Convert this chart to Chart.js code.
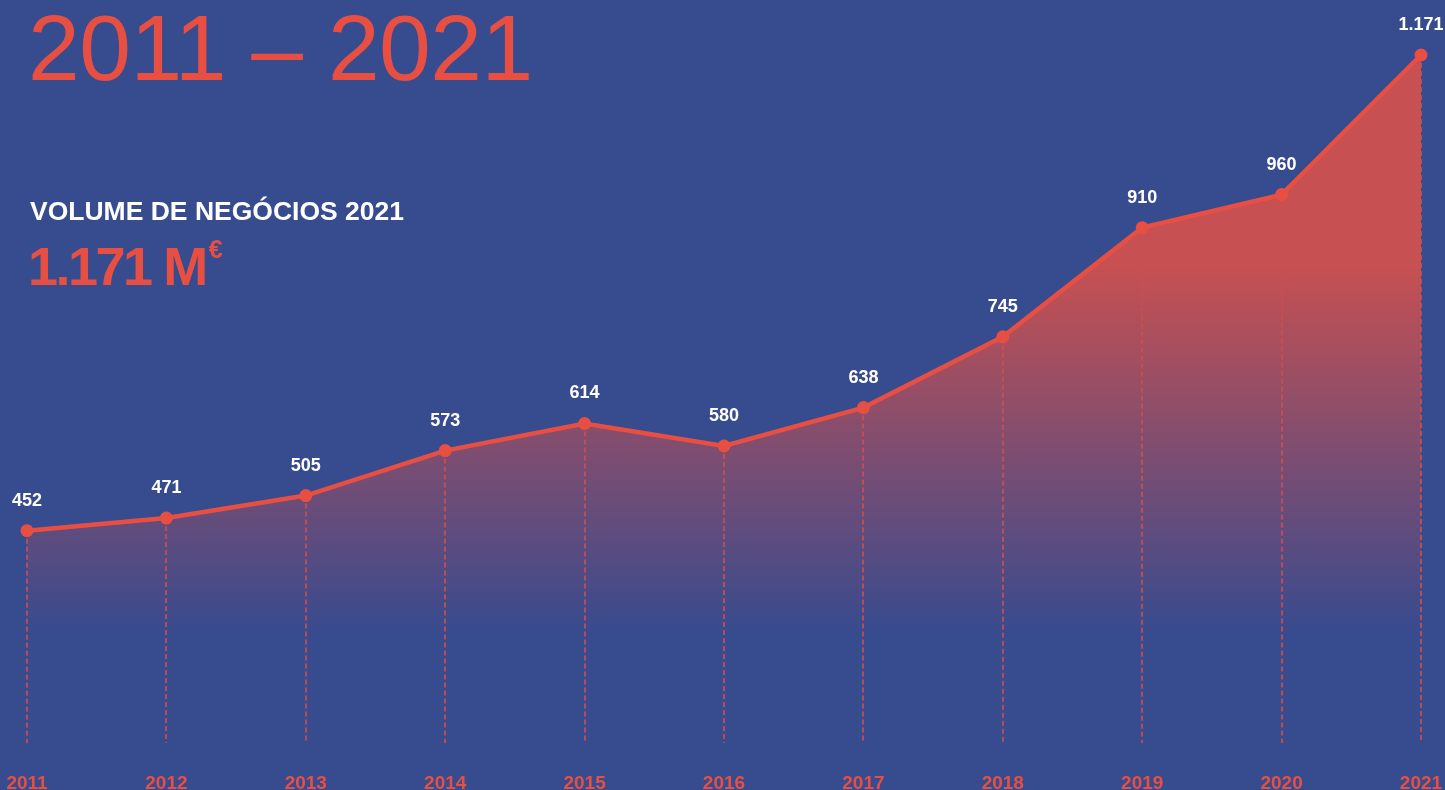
<!DOCTYPE html>
<html lang="pt">
<head>
<meta charset="utf-8">
<title>Volume de negócios 2011 – 2021</title>
<script src="https://cdn.jsdelivr.net/npm/chart.js@4.4.1/dist/chart.umd.min.js"></script>
<style>
  html, body { margin: 0; padding: 0; overflow: hidden; background: #374b8f; }
  #wrap { position: relative; width: 1445px; height: 790px; overflow: hidden; background: #374b8f; }
  #chart { position: absolute; left: 0; top: 0; }
  .t { position: absolute; font-family: "Liberation Sans", Arial, sans-serif; white-space: nowrap; line-height: 1; }
  #periodo { left: 28px; top: 2px; font-size: 93px; color: #e84f43; letter-spacing: -0.5px; }
  #sub { left: 30px; top: 198px; font-size: 26.5px; font-weight: bold; color: #fff; }
  #total { left: 28px; top: 239px; font-size: 54px; font-weight: bold; color: #e84f43; letter-spacing: -2.5px; }
  #total sup { font-size: 25px; position: relative; top: -2px; margin-left: 3px; letter-spacing: 0; vertical-align: top; }
</style>
</head>
<body>
<div id="wrap">
  <canvas id="chart" width="1445" height="790"></canvas>
  <div class="t" id="periodo">2011 – 2021</div>
  <div class="t" id="sub">VOLUME DE NEGÓCIOS 2021</div>
  <div class="t" id="total">1.171 M<sup>€</sup></div>
</div>
<script>
// anos e volume de negócios (M€)
const anos = ['2011', '2012', '2013', '2014', '2015', '2016', '2017', '2018', '2019', '2020', '2021'];
const volume = [452, 471, 505, 573, 614, 580, 638, 745, 910, 960, 1171];

const VERMELHO = '#e84f43';
const FONTE = '"Liberation Sans", Arial, sans-serif';

// 1171 -> "1.171"
const formatar = v => String(v).replace(/\B(?=(\d{3})+(?!\d))/g, '.');

// linhas tracejadas de cada ponto até à base
const linhasVerticais = {
    id: 'linhasVerticais',
    beforeDatasetsDraw(chart) {
        const { ctx, chartArea } = chart;
        const meta = chart.getDatasetMeta(0);
        ctx.save();
        ctx.strokeStyle = 'rgba(232,79,67,0.95)';
        ctx.lineWidth = 1.5;
        ctx.setLineDash([5, 3]);
        meta.data.forEach(p => {
            const x = Math.round(p.x);
            ctx.beginPath();
            ctx.moveTo(x, p.y);
            ctx.lineTo(x, chartArea.bottom - 2);
            ctx.stroke();
        });
        ctx.restore();
    }
};

// valores por cima dos pontos
const rotulos = {
    id: 'rotulos',
    afterDatasetsDraw(chart) {
        const { ctx } = chart;
        const meta = chart.getDatasetMeta(0);
        ctx.save();
        ctx.fillStyle = '#ffffff';
        ctx.font = 'bold 18px ' + FONTE;
        ctx.textAlign = 'center';
        ctx.textBaseline = 'middle';
        meta.data.forEach((p, i) => {
            ctx.fillText(formatar(volume[i]), p.x, p.y - 30);
        });
        ctx.restore();
    }
};

const ctx = document.getElementById('chart').getContext('2d');

new Chart(ctx, {
    type: 'line',
    data: {
        labels: anos,
        datasets: [{
            data: volume,
            borderColor: VERMELHO,
            borderWidth: 4.5,
            pointRadius: 6.5,
            pointHoverRadius: 6.5,
            pointBackgroundColor: VERMELHO,
            pointBorderWidth: 0,
            tension: 0,
            clip: false,
            fill: 'start',
            backgroundColor: c => {
                const area = c.chart.chartArea;
                if (!area) return 'rgba(198,80,82,0.5)';
                const g = c.chart.ctx.createLinearGradient(0, area.top, 0, area.bottom);
                g.addColorStop(0, 'rgba(198,80,82,1)');
                g.addColorStop(0.31, 'rgba(198,80,82,1)');
                g.addColorStop(0.84, 'rgba(198,80,82,0)');
                g.addColorStop(1, 'rgba(198,80,82,0)');
                return g;
            }
        }]
    },
    options: {
        responsive: false,
        animation: false,
        devicePixelRatio: 1,
        layout: { padding: { left: 27, right: 24, top: 55, bottom: 0 } },
        scales: {
            x: {
                offset: false,
                grid: { display: false },
                border: { display: false },
                ticks: {
                    color: VERMELHO,
                    font: { family: FONTE, size: 19, weight: 'bold' },
                    padding: 19,
                    maxRotation: 0,
                    autoSkip: false
                },
                // eixo com altura fixa e sem margens laterais extra
                afterFit(s) {
                    s.paddingLeft = 0;
                    s.paddingRight = 0;
                    s.height = 45;
                }
            },
            y: {
                display: false,
                min: 128,
                max: 1171
            }
        },
        plugins: {
            legend: { display: false },
            tooltip: { enabled: false }
        }
    },
    plugins: [linhasVerticais, rotulos]
});
</script>
</body>
</html>
